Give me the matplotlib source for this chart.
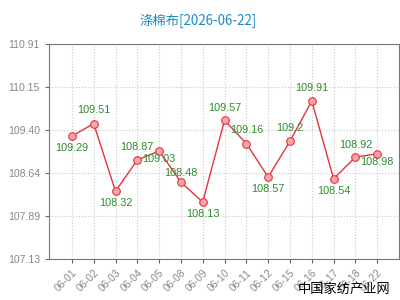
import matplotlib
matplotlib.use('Agg')
import matplotlib.pyplot as plt

plt.rcParams['font.family'] = ['Liberation Sans', 'DejaVu Sans', 'Noto Sans CJK SC']

dates = ['06-01', '06-02', '06-03', '06-04', '06-05', '06-08', '06-09', '06-10',
         '06-11', '06-12', '06-15', '06-16', '06-17', '06-18', '06-22']
prices = [109.29, 109.51, 108.32, 108.87, 109.03, 108.48, 108.13, 109.57,
          109.16, 108.57, 109.2, 109.91, 108.54, 108.92, 108.98]
price_labels = ['109.29', '109.51', '108.32', '108.87', '109.03', '108.48', '108.13', '109.57',
                '109.16', '108.57', '109.2', '109.91', '108.54', '108.92', '108.98']
yticks = [107.13, 107.89, 108.64, 109.40, 110.15, 110.91]

# label offsets in points (vertical only)
offsets = [-8.5, 9.5, -8.7, 9.2, -5.8, 6.5, -8.7, 8.9,
           9.6, -8.9, 9.2, 9.6, -8.9, 8.9, -6.0]

fig = plt.figure(figsize=(4, 3), dpi=100)
ax = fig.add_axes([0.1225, 0.137, 0.875, 0.716])

x = list(range(len(dates)))
ax.plot(x, prices, color='#e8323c', lw=1, marker='o', ms=5.5,
        mfc='#f7a6ae', mec='#e8323c', mew=0.8, zorder=3)

for i, (v, lab) in enumerate(zip(prices, price_labels)):
    ax.annotate(lab, (i, v), xytext=(0, offsets[i]), textcoords='offset points',
                ha='center', va='center', fontsize=7.8, color='#2e8b2e', zorder=4)

ax.set_xlim(-1.05, 15.0)
ax.set_ylim(107.13, 110.91)
ax.set_xticks(x)
ax.set_xticklabels(dates, rotation=45, ha='right', rotation_mode='anchor',
                   fontsize=7.5, color='#888888')
ax.set_yticks(yticks)
ax.set_yticklabels(['%.2f' % t for t in yticks], fontsize=7.6, color='#888888')
ax.tick_params(length=3, color='#666666')
ax.grid(True, ls=':', color='#c8c8c8', lw=0.8)
for s in ax.spines.values():
    s.set_color('#777777')

fig.text(0.495, 0.931, '涤棉布[2026-06-22]', ha='center', va='center',
         fontsize=9.6, color='#1a8ac6', family=['Noto Sans CJK SC', 'DejaVu Sans'])
fig.text(0.975, 0.035, '中国家纺产业网', ha='right', va='center',
         fontsize=9.5, color='black', family=['Noto Sans CJK SC', 'DejaVu Sans'])

plt.savefig('out.png', dpi=100)
